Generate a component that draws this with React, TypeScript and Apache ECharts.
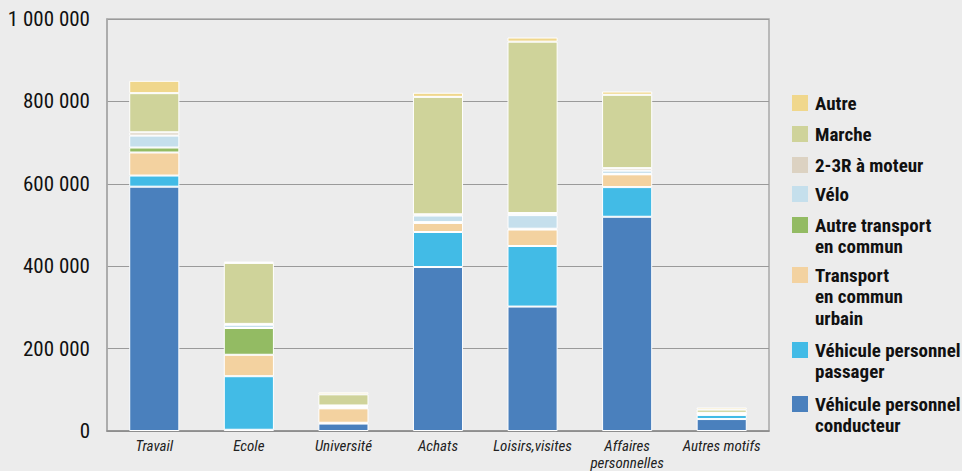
import React, { useEffect, useRef } from "react";
import * as echarts from "echarts";

const categories = ["Travail", "Ecole", "Université", "Achats", "Loisirs,visites", "Affaires personnelles", "Autres motifs"];

const conducteur = [593000, 3000, 18000, 398000, 302000, 520000, 29000];
const passager = [27000, 130000, 2000, 85000, 147000, 72000, 10000];
const urbain = [56000, 52000, 35000, 22000, 40000, 31000, 2000];
const autreTC = [12000, 65000, 2000, 2000, 2000, 1000, 1000];
const velo = [29000, 8000, 3000, 16000, 33000, 8000, 1000];
const deuxRoues = [8000, 2000, 2000, 3000, 5000, 6000, 1000];
const marche = [95000, 148000, 27000, 285000, 416000, 178000, 8000];
const autre = [30000, 3000, 5000, 10000, 10000, 8000, 5000];

const seriesNames = [
  "Véhicule personnel conducteur",
  "Véhicule personnel passager",
  "Transport en commun urbain",
  "Autre transport en commun",
  "Vélo",
  "2-3R à moteur",
  "Marche",
  "Autre",
];
const seriesData = [conducteur, passager, urbain, autreTC, velo, deuxRoues, marche, autre];
const colors = ["#4a80bd", "#42bbe6", "#f3d2a0", "#93bb63", "#c5dfec", "#dcd2c2", "#cfd39a", "#f0d78c"];

// legend labels (top to bottom) as displayed
const legendLabels = [
  "Autre",
  "Marche",
  "2-3R à moteur",
  "Vélo",
  "Autre transport\nen commun",
  "Transport\nen commun\nurbain",
  "Véhicule personnel\npassager",
  "Véhicule personnel\nconducteur",
];
const legendColors = [...colors].reverse();
const legendFirstLineY = [103, 134, 165, 194, 225, 275, 350, 404];

const NARROW = "'Liberation Sans Narrow', 'Arial Narrow', 'Roboto Condensed', sans-serif";

export default function App() {
  const ref = useRef<HTMLDivElement>(null);
  useEffect(() => {
    if (!ref.current) return;
    const chart = echarts.init(ref.current, null, { renderer: "svg" });
    const lh = 21.5;
    const graphic: any[] = [];
    legendLabels.forEach((lab, i) => {
      const cy = legendFirstLineY[i];
      graphic.push({
        type: "rect",
        shape: { x: 792, y: cy - 8, width: 16, height: 16 },
        style: { fill: legendColors[i] },
      });
      graphic.push({
        type: "text",
        x: 815,
        y: cy - lh / 2,
        style: {
          text: lab,
          fill: "#111",
          font: `bold 19px ${NARROW}`,
          lineHeight: lh,
          verticalAlign: "top",
          align: "left",
        },
      });
    });
    chart.setOption({
      animation: false,
      backgroundColor: "#ececec",
      grid: {
        left: 107,
        right: 193,
        top: 19,
        bottom: 39,
        show: true,
        borderColor: "#a8a8a8",
        borderWidth: 1.5,
        backgroundColor: "transparent",
      },
      xAxis: {
        type: "category",
        data: categories,
        axisLine: { show: true, lineStyle: { color: "#8a8a8a", width: 1.5 } },
        axisTick: { show: false },
        axisLabel: {
          color: "#222",
          fontFamily: NARROW,
          fontStyle: "italic",
          fontSize: 15,
          lineHeight: 17,
          margin: 6,
          interval: 0,
          formatter: (v: string) => (v === "Affaires personnelles" ? "Affaires\npersonnelles" : v),
        },
      },
      yAxis: {
        type: "value",
        min: 0,
        max: 1000000,
        interval: 200000,
        axisLine: { show: true, lineStyle: { color: "#a8a8a8", width: 1.5 } },
        axisTick: { show: false },
        splitLine: { show: true, lineStyle: { color: "#9a9a9a", width: 1 } },
        axisLabel: {
          color: "#111",
          fontFamily: NARROW,
          fontWeight: "normal",
          fontSize: 21,
          margin: 17,
          formatter: (v: number) => String(v).replace(/\B(?=(\d{3})+(?!\d))/g, " "),
        },
      },
      graphic,
      series: seriesNames.map((name, i) => ({
        name,
        type: "bar",
        stack: "total",
        data: seriesData[i],
        barWidth: "53%",
        itemStyle: { color: colors[i], borderColor: "#ffffff", borderWidth: 1 },
      })),
    });
    return () => chart.dispose();
  }, []);
  return (
    <div
      ref={ref}
      style={{ position: "fixed", left: 0, top: 0, width: 962, height: 471, background: "#ececec" }}
    />
  );
}
